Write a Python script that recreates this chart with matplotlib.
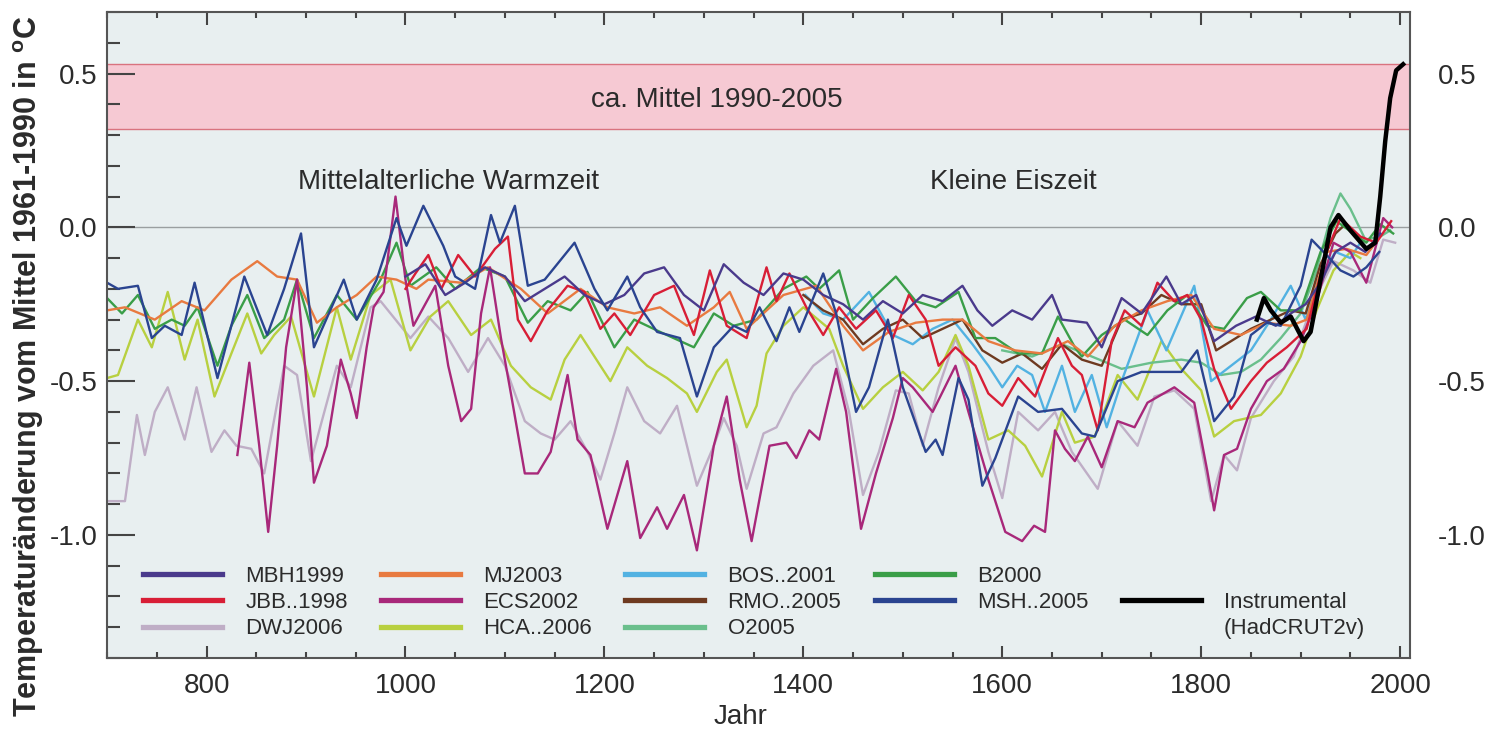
import matplotlib
matplotlib.use("Agg")
import matplotlib.pyplot as plt
from matplotlib.lines import Line2D
from matplotlib.ticker import MultipleLocator, FormatStrFormatter

plt.rcParams['font.family'] = ['Liberation Sans', 'DejaVu Sans']
plt.rcParams['axes.unicode_minus'] = False

# reconstructions, (year, anomaly)
MBH1999 = [(1000, -0.16), (1020, -0.12), (1040, -0.22), (1060, -0.18), (1080, -0.13), (1100, -0.16),
           (1120, -0.24), (1140, -0.20), (1160, -0.16), (1180, -0.22), (1200, -0.25), (1220, -0.22),
           (1240, -0.15), (1260, -0.13), (1280, -0.22), (1300, -0.27), (1320, -0.12), (1340, -0.18),
           (1360, -0.22), (1380, -0.15), (1400, -0.17), (1420, -0.22), (1440, -0.25), (1460, -0.30),
           (1480, -0.24), (1500, -0.28), (1520, -0.22), (1540, -0.24), (1560, -0.19), (1575, -0.27),
           (1590, -0.32), (1610, -0.27), (1630, -0.30), (1650, -0.22), (1660, -0.30), (1685, -0.31),
           (1700, -0.39), (1720, -0.23), (1740, -0.28), (1765, -0.16), (1780, -0.25), (1795, -0.22),
           (1813, -0.37), (1835, -0.32), (1855, -0.29), (1875, -0.32), (1890, -0.28), (1905, -0.25),
           (1920, -0.18), (1935, -0.08), (1950, -0.05), (1965, -0.08), (1980, -0.02)]

JBB1998 = [(1000, -0.20), (1010, -0.15), (1023, -0.09), (1036, -0.20), (1053, -0.09), (1070, -0.16),
           (1090, -0.07), (1103, -0.03), (1113, -0.30), (1126, -0.37), (1143, -0.27), (1163, -0.19),
           (1180, -0.21), (1196, -0.33), (1210, -0.28), (1226, -0.35), (1250, -0.22), (1270, -0.19),
           (1290, -0.35), (1306, -0.14), (1323, -0.32), (1343, -0.36), (1363, -0.13), (1373, -0.24),
           (1386, -0.15), (1403, -0.26), (1420, -0.35), (1436, -0.26), (1453, -0.33), (1473, -0.27),
           (1490, -0.36), (1506, -0.22), (1523, -0.30), (1536, -0.45), (1553, -0.39), (1573, -0.45),
           (1586, -0.54), (1600, -0.58), (1616, -0.49), (1633, -0.55), (1645, -0.45), (1656, -0.36),
           (1670, -0.45), (1680, -0.48), (1696, -0.66), (1710, -0.37), (1723, -0.27), (1740, -0.32),
           (1756, -0.18), (1773, -0.24), (1786, -0.22), (1800, -0.30), (1813, -0.46), (1830, -0.59),
           (1850, -0.50), (1866, -0.44), (1886, -0.39), (1906, -0.33), (1926, -0.08), (1940, 0.03),
           (1960, -0.03), (1976, -0.05), (1991, 0.02)]

DWJ2006 = [(700, -0.89), (718, -0.89), (730, -0.61), (738, -0.74), (748, -0.60), (761, -0.52),
           (778, -0.69), (790, -0.52), (805, -0.73), (818, -0.66), (830, -0.71), (845, -0.72),
           (858, -0.80), (878, -0.45), (891, -0.48), (905, -0.76), (931, -0.45), (945, -0.52),
           (965, -0.26), (975, -0.24), (1005, -0.36), (1023, -0.29), (1043, -0.36), (1063, -0.47),
           (1083, -0.36), (1100, -0.45), (1120, -0.63), (1136, -0.67), (1150, -0.69), (1166, -0.63),
           (1183, -0.73), (1196, -0.82), (1210, -0.67), (1223, -0.52), (1240, -0.63), (1256, -0.67),
           (1273, -0.58), (1293, -0.84), (1310, -0.71), (1320, -0.62), (1333, -0.71), (1343, -0.85),
           (1360, -0.67), (1373, -0.65), (1390, -0.54), (1410, -0.45), (1430, -0.40), (1446, -0.60),
           (1460, -0.87), (1476, -0.73), (1493, -0.53), (1506, -0.54), (1520, -0.71), (1536, -0.52),
           (1553, -0.36), (1566, -0.47), (1586, -0.73), (1600, -0.88), (1616, -0.60), (1636, -0.66),
           (1653, -0.60), (1670, -0.73), (1683, -0.79), (1696, -0.85), (1716, -0.63), (1736, -0.71),
           (1753, -0.55), (1773, -0.53), (1793, -0.59), (1810, -0.89), (1823, -0.74), (1836, -0.79),
           (1850, -0.62), (1873, -0.50), (1893, -0.42), (1913, -0.24), (1933, -0.11), (1953, -0.14),
           (1970, -0.18), (1983, -0.04), (1995, -0.05)]

MJ2003 = [(700, -0.27), (718, -0.26), (748, -0.30), (775, -0.24), (798, -0.27), (825, -0.17),
          (851, -0.11), (871, -0.16), (891, -0.17), (911, -0.31), (931, -0.26), (951, -0.22),
          (971, -0.16), (991, -0.17), (1011, -0.20), (1023, -0.17), (1056, -0.18), (1083, -0.13),
          (1116, -0.20), (1143, -0.28), (1176, -0.20), (1203, -0.26), (1230, -0.28), (1256, -0.26),
          (1283, -0.32), (1310, -0.26), (1326, -0.21), (1343, -0.33), (1353, -0.30), (1380, -0.22),
          (1413, -0.19), (1440, -0.32), (1460, -0.40), (1486, -0.34), (1513, -0.31), (1540, -0.30),
          (1560, -0.30), (1586, -0.37), (1613, -0.40), (1640, -0.41), (1666, -0.37), (1686, -0.42),
          (1713, -0.32), (1740, -0.27), (1766, -0.24), (1790, -0.22), (1813, -0.33), (1840, -0.35),
          (1866, -0.31), (1890, -0.32), (1906, -0.30), (1926, -0.08), (1946, -0.07), (1966, -0.09),
          (1980, -0.03)]

ECS2002 = [(831, -0.74), (843, -0.44), (853, -0.71), (862, -0.99), (871, -0.71), (880, -0.39),
           (891, -0.17), (901, -0.52), (908, -0.83), (921, -0.71), (935, -0.43), (945, -0.54),
           (951, -0.62), (961, -0.39), (968, -0.26), (978, -0.21), (990, 0.10), (1000, -0.17),
           (1008, -0.32), (1030, -0.19), (1043, -0.45), (1056, -0.63), (1066, -0.59), (1076, -0.28),
           (1085, -0.13), (1096, -0.36), (1106, -0.54), (1120, -0.80), (1133, -0.80), (1146, -0.73),
           (1163, -0.48), (1173, -0.69), (1186, -0.74), (1203, -0.98), (1223, -0.76), (1236, -1.01),
           (1253, -0.91), (1263, -0.98), (1280, -0.87), (1293, -1.05), (1310, -0.71), (1323, -0.55),
           (1336, -0.82), (1348, -1.02), (1366, -0.71), (1383, -0.70), (1393, -0.75), (1406, -0.66),
           (1416, -0.69), (1433, -0.46), (1443, -0.60), (1458, -0.98), (1473, -0.80), (1490, -0.62),
           (1500, -0.49), (1510, -0.52), (1530, -0.60), (1553, -0.45), (1566, -0.60), (1586, -0.82),
           (1603, -0.99), (1620, -1.02), (1632, -0.97), (1643, -0.99), (1653, -0.66), (1663, -0.72),
           (1673, -0.76), (1686, -0.68), (1700, -0.78), (1716, -0.63), (1733, -0.65), (1746, -0.57),
           (1773, -0.52), (1793, -0.57), (1806, -0.79), (1813, -0.92), (1823, -0.74), (1836, -0.72),
           (1850, -0.59), (1866, -0.50), (1883, -0.46), (1900, -0.37), (1916, -0.24), (1933, -0.05),
           (1950, -0.08), (1966, -0.18), (1983, 0.03), (1992, 0.00)]

HCA2006 = [(700, -0.49), (711, -0.48), (731, -0.30), (745, -0.39), (761, -0.21), (778, -0.43),
           (791, -0.30), (808, -0.55), (825, -0.41), (841, -0.28), (855, -0.41), (868, -0.35),
           (885, -0.29), (908, -0.55), (931, -0.26), (945, -0.43), (965, -0.22), (985, -0.17),
           (1005, -0.40), (1025, -0.29), (1043, -0.24), (1066, -0.35), (1086, -0.30), (1106, -0.45),
           (1126, -0.52), (1146, -0.56), (1160, -0.43), (1176, -0.35), (1206, -0.50), (1223, -0.39),
           (1243, -0.45), (1263, -0.49), (1283, -0.54), (1293, -0.60), (1313, -0.47), (1323, -0.43),
           (1343, -0.65), (1353, -0.58), (1363, -0.41), (1380, -0.32), (1400, -0.26), (1426, -0.33),
           (1440, -0.45), (1460, -0.59), (1480, -0.52), (1500, -0.47), (1520, -0.53), (1536, -0.47),
           (1553, -0.35), (1566, -0.45), (1586, -0.69), (1606, -0.66), (1623, -0.71), (1640, -0.81),
           (1660, -0.60), (1673, -0.70), (1693, -0.68), (1716, -0.48), (1736, -0.56), (1760, -0.37),
           (1780, -0.46), (1800, -0.53), (1813, -0.68), (1833, -0.63), (1860, -0.61), (1880, -0.54),
           (1900, -0.42), (1916, -0.27), (1933, -0.14), (1950, -0.08), (1960, -0.10)]

BOS2001 = [(1402, -0.22), (1420, -0.28), (1440, -0.30), (1466, -0.21), (1490, -0.35), (1510, -0.38),
           (1530, -0.33), (1550, -0.30), (1570, -0.38), (1586, -0.45), (1600, -0.52), (1615, -0.45),
           (1630, -0.48), (1643, -0.60), (1660, -0.45), (1673, -0.60), (1690, -0.48), (1705, -0.65),
           (1720, -0.50), (1746, -0.27), (1765, -0.40), (1793, -0.19), (1810, -0.50), (1830, -0.45),
           (1850, -0.40), (1870, -0.30), (1890, -0.19), (1905, -0.30), (1916, -0.18), (1935, -0.08),
           (1950, -0.10), (1960, -0.05)]

RMO2005 = [(1400, -0.22), (1420, -0.27), (1440, -0.30), (1460, -0.38), (1480, -0.33), (1500, -0.30),
           (1520, -0.36), (1540, -0.33), (1560, -0.30), (1580, -0.40), (1600, -0.44), (1620, -0.41),
           (1640, -0.46), (1660, -0.38), (1680, -0.43), (1700, -0.45), (1720, -0.30), (1740, -0.28),
           (1760, -0.22), (1780, -0.25), (1800, -0.25), (1815, -0.40), (1830, -0.37), (1850, -0.33),
           (1870, -0.30), (1890, -0.27), (1905, -0.28), (1920, -0.12), (1935, -0.02), (1945, 0.01),
           (1960, -0.05)]

O2005 = [(1600, -0.40), (1630, -0.42), (1660, -0.38), (1690, -0.42), (1720, -0.46), (1750, -0.44),
         (1780, -0.43), (1800, -0.44), (1820, -0.48), (1840, -0.47), (1860, -0.43), (1880, -0.36),
         (1900, -0.28), (1915, -0.15), (1930, 0.03), (1940, 0.11), (1950, 0.06), (1965, -0.04),
         (1980, -0.03), (1990, -0.01)]

B2000 = [(700, -0.23), (715, -0.28), (731, -0.22), (748, -0.33), (765, -0.30), (778, -0.32),
         (791, -0.26), (811, -0.45), (825, -0.32), (841, -0.22), (858, -0.36), (878, -0.30),
         (891, -0.17), (908, -0.36), (931, -0.22), (951, -0.30), (975, -0.17), (991, -0.05),
         (1005, -0.19), (1031, -0.13), (1050, -0.20), (1076, -0.13), (1100, -0.16), (1123, -0.31),
         (1143, -0.24), (1166, -0.27), (1183, -0.21), (1210, -0.39), (1230, -0.30), (1256, -0.34),
         (1290, -0.39), (1310, -0.28), (1330, -0.32), (1353, -0.30), (1380, -0.20), (1403, -0.16),
         (1416, -0.20), (1436, -0.14), (1450, -0.30), (1470, -0.23), (1493, -0.16), (1513, -0.24),
         (1533, -0.26), (1556, -0.21), (1573, -0.36), (1593, -0.36), (1616, -0.41), (1640, -0.41),
         (1656, -0.29), (1673, -0.39), (1680, -0.42), (1700, -0.35), (1723, -0.30), (1746, -0.35),
         (1766, -0.27), (1786, -0.22), (1806, -0.32), (1823, -0.33), (1846, -0.23), (1860, -0.21),
         (1880, -0.27), (1900, -0.27), (1920, -0.08), (1936, 0.02), (1953, -0.02), (1966, -0.05),
         (1980, 0.01), (1993, -0.02)]

MSH2005 = [(700, -0.18), (711, -0.20), (731, -0.19), (745, -0.36), (758, -0.32), (775, -0.35),
           (788, -0.18), (811, -0.49), (838, -0.16), (861, -0.35), (878, -0.20), (895, -0.02),
           (908, -0.39), (938, -0.17), (951, -0.30), (971, -0.17), (991, 0.03), (1001, -0.06),
           (1018, 0.07), (1038, -0.06), (1050, -0.16), (1070, -0.20), (1086, 0.04), (1095, -0.05),
           (1110, 0.07), (1123, -0.19), (1140, -0.17), (1170, -0.05), (1190, -0.20), (1203, -0.27),
           (1223, -0.16), (1236, -0.26), (1253, -0.34), (1276, -0.36), (1293, -0.55), (1310, -0.39),
           (1330, -0.32), (1343, -0.34), (1356, -0.26), (1373, -0.37), (1386, -0.26), (1396, -0.34),
           (1420, -0.15), (1433, -0.28), (1453, -0.60), (1466, -0.52), (1485, -0.30), (1500, -0.52),
           (1523, -0.73), (1533, -0.69), (1540, -0.74), (1556, -0.49), (1566, -0.56), (1580, -0.84),
           (1593, -0.75), (1616, -0.55), (1636, -0.60), (1660, -0.59), (1680, -0.67), (1693, -0.68),
           (1716, -0.50), (1740, -0.47), (1780, -0.47), (1796, -0.40), (1813, -0.63), (1833, -0.55),
           (1850, -0.35), (1866, -0.31), (1880, -0.32), (1900, -0.19), (1911, -0.04), (1926, -0.09),
           (1940, -0.14), (1953, -0.16), (1966, -0.13), (1979, -0.08)]

HADCRUT2V = [(1856, -0.30), (1863, -0.23), (1870, -0.27), (1880, -0.31), (1890, -0.29), (1903, -0.37),
             (1910, -0.34), (1920, -0.17), (1930, 0.00), (1938, 0.04), (1950, -0.01), (1966, -0.07),
             (1975, -0.05), (1980, 0.10), (1985, 0.28), (1990, 0.42), (1996, 0.51), (2003, 0.53)]

series = [
    ("MBH1999", MBH1999, "#4a3a8c"),
    ("JBB..1998", JBB1998, "#d81e36"),
    ("DWJ2006", DWJ2006, "#bfaec6"),
    ("MJ2003", MJ2003, "#e87a40"),
    ("ECS2002", ECS2002, "#a8287a"),
    ("HCA..2006", HCA2006, "#b8d040"),
    ("BOS..2001", BOS2001, "#52b2e2"),
    ("RMO..2005", RMO2005, "#6e3a20"),
    ("O2005", O2005, "#6abf8c"),
    ("B2000", B2000, "#3a9e48"),
    ("MSH..2005", MSH2005, "#2a4490"),
]

band = (0.32, 0.53)

fig = plt.figure(figsize=(14.89, 7.30), dpi=100)
ax = fig.add_axes([0.0719, 0.0986, 0.8751, 0.885])
ax.set_facecolor('#e8eff0')

ax.axhspan(band[0], band[1], facecolor='#f6c9d3', edgecolor='none', zorder=0)
ax.axhline(band[0], color='#d9737f', lw=1, zorder=0.5)
ax.axhline(band[1], color='#d9737f', lw=1, zorder=0.5)
ax.axhline(0.0, color='#9a9fa0', lw=1, zorder=0.5)

draw_order = ["DWJ2006", "HCA..2006", "O2005", "BOS..2001", "RMO..2005", "B2000",
              "MJ2003", "ECS2002", "JBB..1998", "MBH1999", "MSH..2005"]
lookup = {name: (data, col) for name, data, col in series}
for name in draw_order:
    data, col = lookup[name]
    yrs, vals = zip(*data)
    ax.plot(yrs, vals, color=col, lw=1.7, solid_joinstyle='round', zorder=2)

yrs, vals = zip(*HADCRUT2V)
ax.plot(yrs, vals, color='black', lw=3.2, solid_joinstyle='round', zorder=3)

ax.set_xlim(700, 2010)
ax.set_ylim(-1.4, 0.7)

txt = '#2b2b2b'
ax.text(1313, 0.415, 'ca. Mittel 1990-2005', fontsize=20, color=txt, ha='center', va='center')
ax.text(1043, 0.146, 'Mittelalterliche Warmzeit', fontsize=20, color=txt, ha='center', va='center')
ax.text(1611, 0.146, 'Kleine Eiszeit', fontsize=20, color=txt, ha='center', va='center')

# ticks
ax.xaxis.set_major_locator(MultipleLocator(200))
ax.xaxis.set_minor_locator(MultipleLocator(50))
ax.yaxis.set_major_locator(MultipleLocator(0.5))
ax.yaxis.set_minor_locator(MultipleLocator(0.1))
ax.yaxis.set_major_formatter(FormatStrFormatter('%.1f'))
ax.tick_params(axis='both', which='both', direction='in', colors='#444444', width=1.5,
               labelsize=20, labelcolor=txt, top=True, right=True)
ax.tick_params(axis='x', which='major', length=9, pad=11)
ax.tick_params(axis='x', which='minor', length=4.5)
ax.tick_params(axis='y', which='major', length=20, pad=7)
ax.tick_params(axis='y', which='minor', length=9)
for sp in ax.spines.values():
    sp.set_color('#555555')
    sp.set_linewidth(1.5)

ax2 = ax.twinx()
ax2.set_ylim(-1.4, 0.7)
ax2.yaxis.set_major_locator(MultipleLocator(0.5))
ax2.yaxis.set_major_formatter(FormatStrFormatter('%.1f'))
ax2.tick_params(axis='y', length=0, pad=20, labelsize=20, labelcolor=txt)
ax2.yaxis.set_minor_locator(MultipleLocator(0.1))
ax2.tick_params(axis='y', which='minor', length=0)
for sp in ax2.spines.values():
    sp.set_visible(False)

ax.set_xlabel('Jahr', fontsize=20, color=txt)
ax.xaxis.set_label_coords(0.486, -0.071)
ax.set_ylabel('Temperaturänderung vom Mittel 1961-1990 in $\\mathregular{^{o}}$C',
              fontsize=22, fontweight='bold', color=txt)
ax.yaxis.set_label_coords(-0.047, 0.452)

# legend, 5 columns of 3 rows
blank = Line2D([], [], color='none')
handles = [Line2D([], [], color=col, lw=3.8) for _, _, col in series]
labels = [name for name, _, _ in series]
handles = handles + [blank, blank, Line2D([], [], color='black', lw=3.8), blank]
labels = labels + ['', '', 'Instrumental', '(HadCRUT2v)']
leg = ax.legend(handles, labels, ncol=5, loc='upper left', bbox_to_anchor=(0.0276, 0.143),
                frameon=False, fontsize=16, handlelength=3.55, handletextpad=1.05,
                columnspacing=1.5, labelspacing=0.24, borderpad=0, borderaxespad=0)
for t in leg.get_texts():
    t.set_color(txt)

fig.savefig('out.png', dpi=100)
